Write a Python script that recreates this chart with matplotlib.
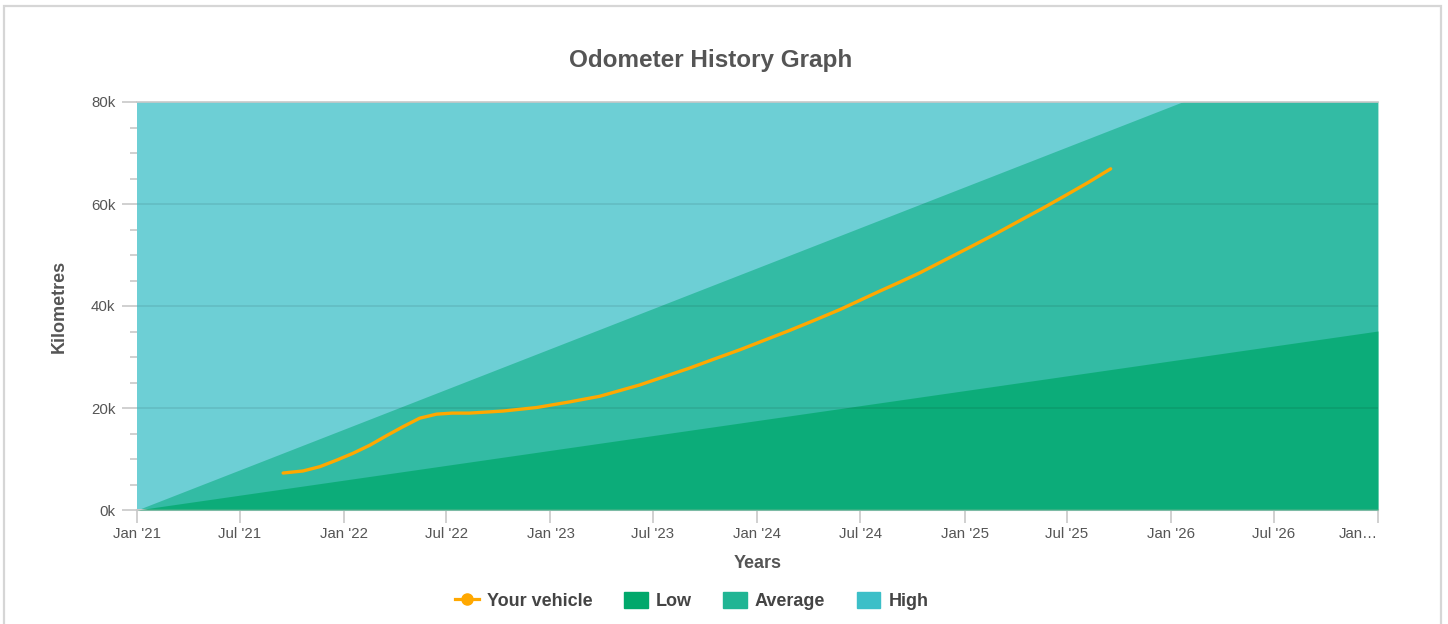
import matplotlib
matplotlib.use("Agg")
import matplotlib.pyplot as plt
import matplotlib.patches as mpatches
from matplotlib.lines import Line2D
from matplotlib.ticker import FuncFormatter, MultipleLocator
import pandas as pd

plt.rcParams['font.family'] = ['Liberation Sans', 'DejaVu Sans']

# odometer readings
vehicle_dates = pd.to_datetime([
    "2021-09-16", "2021-10-21", "2021-11-20", "2021-12-20", "2022-01-17",
    "2022-02-16", "2022-03-18", "2022-04-15", "2022-05-15", "2022-06-14",
    "2022-07-12", "2022-08-11", "2022-10-09", "2022-12-08", "2023-02-04",
    "2023-03-29", "2023-06-07", "2023-09-03", "2023-10-17", "2023-12-01",
    "2024-01-14", "2024-02-27", "2024-04-11", "2024-05-26", "2024-06-30",
    "2024-08-04", "2024-09-09", "2024-10-14", "2024-11-27", "2025-01-10",
    "2025-02-24", "2025-04-08", "2025-05-18", "2025-06-27", "2025-08-07",
    "2025-09-16",
])
vehicle_km = [
    7250, 7650, 8500, 9800, 11100,
    12700, 14600, 16300, 18000, 18800,
    19000, 19000, 19400, 20100, 21200,
    22300, 24500, 27800, 29600, 31400,
    33300, 35200, 37200, 39300, 41100,
    42900, 44700, 46500, 49000, 51500,
    54100, 56700, 59100, 61600, 64200,
    66900,
]

# reference bands
band_dates = pd.to_datetime(["2021-01-01", "2027-01-01"])
low_km = [0, 35100]
average_km = [0, 95000]

tick_dates = pd.to_datetime([
    "2021-01-01", "2021-07-01", "2022-01-01", "2022-07-01", "2023-01-01",
    "2023-07-01", "2024-01-01", "2024-07-01", "2025-01-01", "2025-07-01",
    "2026-01-01", "2026-07-01", "2027-01-01",
])
tick_labels = ["Jan '21", "Jul '21", "Jan '22", "Jul '22", "Jan '23", "Jul '23",
               "Jan '24", "Jul '24", "Jan '25", "Jul '25", "Jan '26", "Jul '26", "Jan…"]

y_max = 80000

c_low = "#00a86b"
c_avg = "#20b594"
c_high = "#3cbfc8"
c_line = "#ffa800"
txt = "#555555"

fig = plt.figure(figsize=(14.48, 6.24), dpi=100)
ax = fig.add_axes([137/1448, 1-510/624, (1378-137)/1448, (510-102)/624])

# outer border
fig.patches.append(mpatches.Rectangle((4/1448, -0.05), (1441-4)/1448, 1.05-5.5/624,
                                      transform=fig.transFigure, fill=False,
                                      edgecolor="#d6d6d6", lw=1.6))

ax.fill_between(band_dates, 0, y_max, color=c_high, alpha=0.75, lw=0, zorder=1)
ax.fill_between(band_dates, 0, average_km, color=c_avg, alpha=0.75, lw=0, zorder=2)
ax.fill_between(band_dates, 0, low_km, color=c_low, alpha=0.75, lw=0, zorder=3)

for v in [20000, 40000, 60000]:
    ax.axhline(v, color="black", alpha=0.09, lw=1.2, zorder=4)

ax.plot(vehicle_dates, vehicle_km, color=c_line, lw=2.4, zorder=5,
        solid_capstyle="round", solid_joinstyle="round")

ax.set_xlim(band_dates[0], band_dates[1])
ax.set_ylim(0, y_max)

ax.set_xticks(tick_dates)
ax.set_xticklabels(tick_labels)
labs = ax.get_xticklabels()
labs[-1].set_horizontalalignment("right")
ax.yaxis.set_major_locator(MultipleLocator(20000))
ax.yaxis.set_minor_locator(MultipleLocator(5000))
ax.yaxis.set_major_formatter(FuncFormatter(lambda v, p: f"{int(v/1000)}k"))

for s in ["left", "right"]:
    ax.spines[s].set_visible(False)
ax.spines["top"].set_color("#c8c8c8")
ax.spines["top"].set_linewidth(1.2)
ax.spines["bottom"].set_color("#c8c8c8")
ax.spines["bottom"].set_linewidth(1.5)
ax.spines["top"].set_zorder(6)

ax.tick_params(axis="x", length=9.5, width=1.2, color="#c8c8c8", pad=3,
               labelsize=10.8, labelcolor=txt)
ax.tick_params(axis="y", which="major", length=10.5, width=1.2, color="#c8c8c8",
               pad=5, labelsize=10.8, labelcolor=txt)
ax.tick_params(axis="y", which="minor", length=5, width=1.2, color="#c8c8c8")

ax.set_xlabel("Years", fontsize=13, fontweight="bold", color=txt)
ax.xaxis.set_label_coords(0.5, -(555-510)/408)
ax.set_ylabel("Kilometres", fontsize=13, fontweight="bold", color=txt)
ax.yaxis.set_label_coords((68-137)/1241, 0.5)

fig.text(711/1448, 1-61/624, "Odometer History Graph", ha="center", va="center",
         fontsize=17.5, fontweight="bold", color=txt)

handles = [
    Line2D([0], [0], color=c_line, lw=2.3, marker="o", markersize=8),
    mpatches.Patch(color=c_low),
    mpatches.Patch(color=c_avg),
    mpatches.Patch(color=c_high),
]
leg = fig.legend(handles, ["Your vehicle", "Low", "Average", "High"], ncol=4,
                 loc="center", bbox_to_anchor=(692/1448, 1-601/624), frameon=False,
                 handlelength=1.3, handleheight=1.05, handletextpad=0.45,
                 columnspacing=1.75, prop={"size": 13, "weight": "bold"})
for t in leg.get_texts():
    t.set_color("#444444")

fig.savefig("out.png", dpi=100)
